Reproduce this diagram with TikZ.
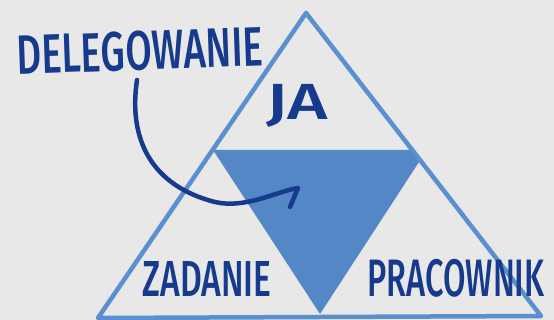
\documentclass[tikz,border=0pt]{standalone}
\usepackage{fontspec}
\setmainfont{Fira Sans}[BoldFont={Fira Sans Medium}]
\usepackage{graphicx}
\definecolor{bg}{HTML}{E8E8E8}
\definecolor{lineblue}{HTML}{5A90D0}
\definecolor{fillblue}{HTML}{5387C6}
\definecolor{navy}{HTML}{163A8C}
\tikzset{
  txt/.style={text=navy, inner sep=0pt},
  outline/.style={draw=lineblue, line width=4.5pt, line join=round},
  marker/.style={draw=navy, line width=4.5pt, line cap=round, line join=round}
}
\begin{document}
\begin{tikzpicture}[x=1pt,y=-1pt]
\fill[bg] (0,0) rectangle (554,320);
\useasboundingbox (0,0) rectangle (554,320);
% shaded centre triangle
\fill[fillblue] (213,150) -- (411,150) -- (419,162) -- (320,314) -- cycle;
% outer triangle
\draw[outline] (306,13) -- (98,318) -- (541,316) -- cycle;
% texts
\node[txt, rotate=2] (deleg) at (140,51) {\resizebox*{246pt}{40pt}{\bfseries DELEGOWANIE}};
\node[txt] (ja) at (297,106) {\resizebox*{62pt}{43pt}{\bfseries JA}};
\node[txt] (zadanie) at (207,279) {\resizebox*{129pt}{35pt}{\bfseries ZADANIE}};
\node[txt] (pracownik) at (456,278) {\resizebox*{177pt}{38pt}{\bfseries PRACOWNIK}};
% arrow
\coordinate (arrS) at (137,80);
\coordinate (arrM) at (215,202);
\coordinate (arrT) at (298,188);
\coordinate (barb) at (290,207);
\draw[marker] (arrS) .. controls (128,140) and (152,186) .. (arrM)
  .. controls (245,209) and (275,192) .. (arrT) -- (barb);
\end{tikzpicture}
\end{document}
